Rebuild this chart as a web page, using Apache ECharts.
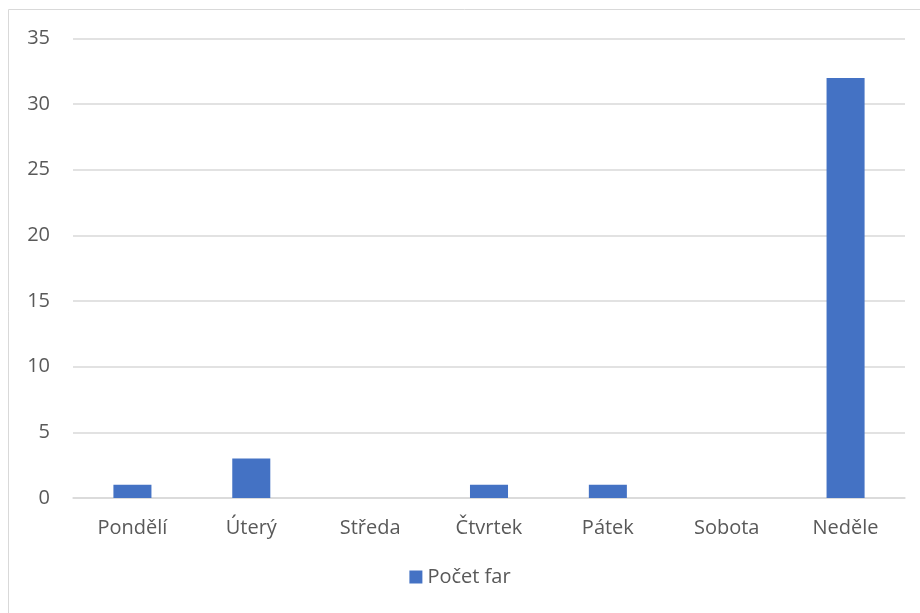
<!DOCTYPE html>
<html><head><meta charset="utf-8">
<script src="https://cdn.jsdelivr.net/npm/echarts@6/dist/echarts.min.js"></script>
<style>html,body{margin:0;padding:0;background:#fff}#c{width:920px;height:613px}</style>
</head><body><div id="c"></div>
<script>
const categories = ['Pondělí','Úterý','Středa','Čtvrtek','Pátek','Sobota','Neděle'];
const seriesName = 'Počet far';
const values = [1,3,0,1,1,0,32];
const chart = echarts.init(document.getElementById('c'));
const font = '"Open Sans", "Noto Sans", sans-serif';
chart.setOption({
  animation:false,
  graphic:[{type:'rect',shape:{x:8.5,y:9.5,width:930,height:630},style:{fill:null,stroke:'#d9d9d9',lineWidth:1}}],
  grid:{left:73,right:15,top:38.5,bottom:115,containLabel:false},
  legend:{bottom:21,left:'center',itemWidth:13,itemHeight:13,icon:'rect',itemGap:6,
    textStyle:{fontFamily:font,fontSize:20,color:'#595959'}},
  xAxis:{type:'category',data:categories,
    axisLine:{lineStyle:{color:'#d9d9d9',width:1.5}},axisTick:{show:false},
    axisLabel:{fontFamily:font,fontSize:20,color:'#595959',margin:20}},
  yAxis:{type:'value',min:0,max:35,interval:5,
    axisLine:{show:false},axisTick:{show:false},
    splitLine:{lineStyle:{color:'#d9d9d9',width:1.5}},
    axisLabel:{fontFamily:font,fontSize:20,color:'#595959',margin:23}},
  series:[{name:seriesName,type:'bar',data:values,barWidth:'32%',itemStyle:{color:'#4472c4'}}]
});
</script></body></html>
